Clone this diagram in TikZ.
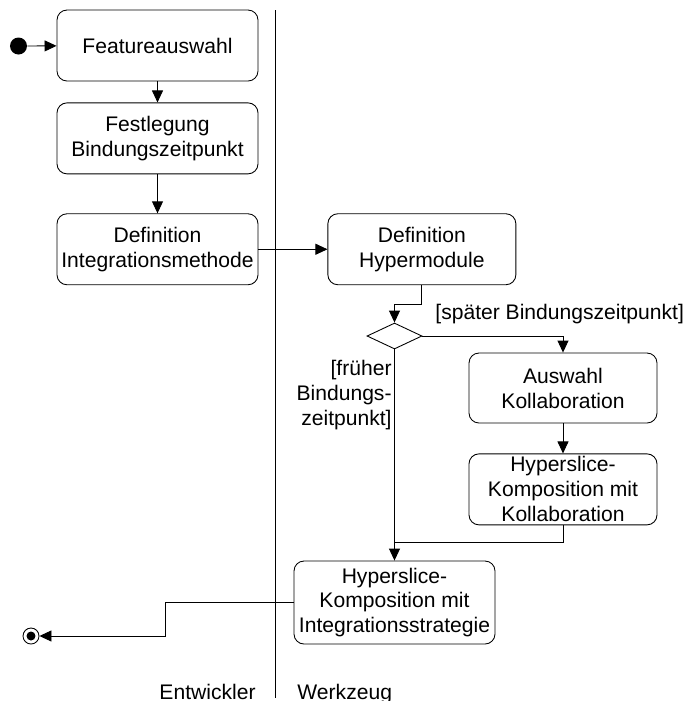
\documentclass[tikz,border=0pt]{standalone}
\usepackage{fontspec}
\setmainfont{Liberation Sans}
\usetikzlibrary{positioning}
\usetikzlibrary{arrows.meta}
\usetikzlibrary{shapes.geometric}

\begin{document}
\begin{tikzpicture}[
    font=\fontsize{12}{14.2}\selectfont,
    line width=0.5pt,
    action/.style={draw, rounded corners=0.2cm, align=center, inner sep=0pt,
        minimum width=4.02cm, minimum height=1.42cm},
    flow/.style={-{Triangle[length=0.24cm,width=0.22cm]}},
    guard/.style={inner sep=0pt, align=right}
  ]
    \useasboundingbox (0,0) rectangle (13.76,-14.02);

    % Bahnen
    \draw (5.5,-0.2) coordinate (lanetop) -- (5.5,-13.96) coordinate (lanebot);
    \node [anchor=base east, inner sep=0pt] (dev) at (5.12,-13.98) {Entwickler};
    \node [anchor=base west, inner sep=0pt] (tool) at (5.94,-13.98) {Werkzeug};

    % linke Spalte
    \node [action] (feat) at (3.15,-0.91) {Featureauswahl};
    \node [action, below=0.42cm of feat] (fest) {Festlegung\\Bindungszeitpunkt};
    \node [action, below=0.78cm of fest] (defint) {Definition\\Integrationsmethode};
    \node [action, right=1.38cm of defint, minimum width=3.76cm] (defhyp) {Definition\\Hypermodule};

    % Verzweigung
    \node [draw, diamond, aspect=2.1, inner sep=0pt, minimum width=1.1cm, minimum height=0.52cm] (dec) at (7.89,-6.72) {};
    \node [action, minimum width=3.76cm, minimum height=1.4cm] (auswahl) at (11.26,-7.76) {Auswahl\\Kollaboration};
    \node [action, below=0.6cm of auswahl, minimum width=3.76cm] (komkol) {Hyperslice-\\Komposition mit\\Kollaboration};
    \node [action, minimum height=1.66cm] (komint) at (7.89,-12.05) {Hyperslice-\\Komposition mit\\Integrationsstrategie};
    \coordinate (join) at (7.89,-10.84);

    % Start und Ende
    \node [circle, fill, inner sep=0pt, minimum size=0.34cm] (start) at (0.37,-0.92) {};
    \node [circle, draw, inner sep=0pt, minimum size=0.32cm] (final) at (0.62,-12.72) {};
    \fill (final.center) circle (0.09cm);

    % Kanten
    \draw [flow] (start) -- (feat);
    \draw [flow] (feat) -- (fest);
    \draw [flow] (fest) -- (defint);
    \draw [flow] (defint) -- (defhyp);
    \draw [flow] (defhyp.south) -- ++(0,-0.38) -| (dec.north);
    \draw [flow] (dec.east) -| (auswahl.north);
    \draw [flow] (auswahl) -- (komkol);
    \draw (komkol.south) |- (join);
    \draw [flow] (dec.south) -- (komint.north);
    \draw [flow] (komint.west) -- ++(-2.56,0) |- (final.east);

    % Bedingungen
    \node [guard, anchor=base west] (late) at (8.7,-6.38) {[später Bindungszeitpunkt]};
    \node [guard, anchor=east] (early) at (7.84,-7.9) {[früher\\Bindungs-\\zeitpunkt]};
\end{tikzpicture}
\end{document}
